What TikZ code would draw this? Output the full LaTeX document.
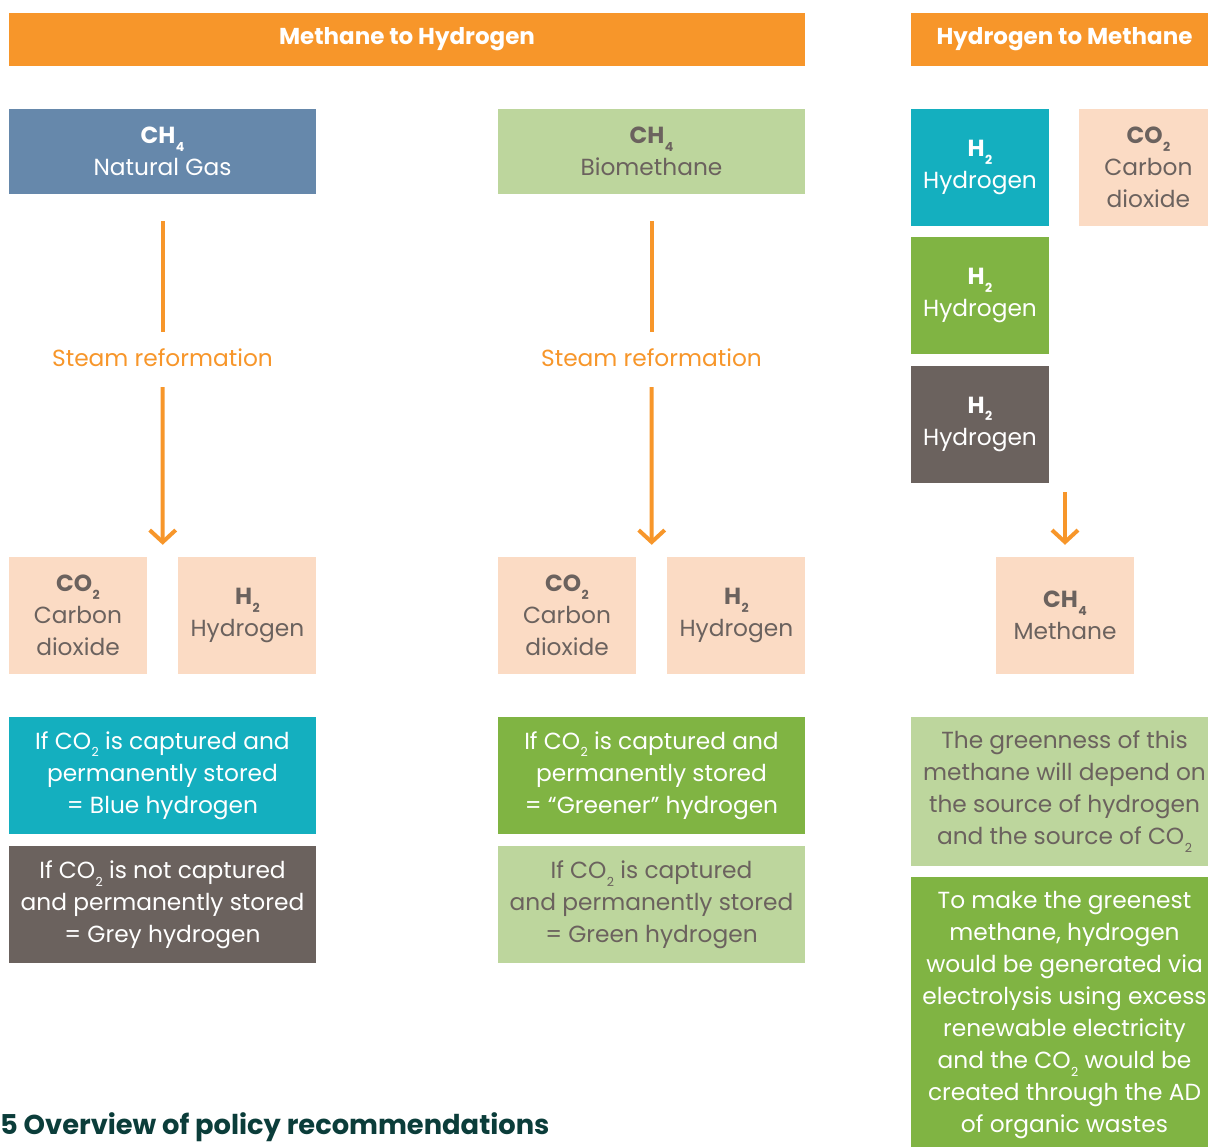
\documentclass[tikz,border=0pt]{standalone}
\usepackage{fontspec}
\setmainfont{Poppins}
\usetikzlibrary{positioning,arrows.meta,calc}
\definecolor{cOrange}{HTML}{F7962A}
\definecolor{cSlate}{HTML}{6688AB}
\definecolor{cLime}{HTML}{BDD69D}
\definecolor{cGreen}{HTML}{80B443}
\definecolor{cTeal}{HTML}{14AFBF}
\definecolor{cGrey}{HTML}{6B625E}
\definecolor{cPeach}{HTML}{FBDBC4}
\definecolor{cInk}{HTML}{0B3D3A}
% low-set subscript as in the source layout
\newcommand{\lowsub}[1]{\kern0.5pt\raisebox{-7.5pt}{\fontsize{12.5}{12.5}\selectfont #1}}
\newcommand{\chem}[2]{\textbf{#1\lowsub{#2}}}
\newcommand{\cotwo}{CO\lowsub{2}}

\begin{document}
\begin{tikzpicture}[
  x=1pt,y=-1pt,
  font=\fontsize{23.3}{32}\selectfont,
  box/.style={minimum width=138pt,minimum height=117pt,inner sep=0pt,align=center},
  wide/.style={box,minimum width=307pt},
  light/.style={text=cGrey},
  dark/.style={text=white},
  hdr/.style={fill=cOrange,text=white,minimum height=53pt,inner sep=0pt,font=\fontsize{23}{28}\selectfont\bfseries},
  procLabel/.style={text=cOrange,minimum height=52pt,inner sep=0pt},
  plain/.style={cOrange,line width=4pt},
  flow/.style={plain,-{Straight Barb[length=12pt,width=26pt]}}
]
\useasboundingbox (0,0) rectangle (1208,1147);

% --- headers ---
\node[hdr,minimum width=796pt] (hdrA) at (407,39.5) {Methane to Hydrogen};
\node[hdr,minimum width=307pt] (hdrB) at (1064.5,39.5) {Hydrogen to Methane};

% --- natural gas route ---
\node[wide,minimum height=85pt,fill=cSlate,dark] (gas) at (162.5,151.5) {\chem{CH}{4}\\Natural Gas};
\node[procLabel] (steamA) at (162.5,358) {Steam reformation};
\node[box,fill=cPeach,light] (co2A) at (78,615.5) {\chem{CO}{2}\\Carbon\\dioxide};
\node[box,fill=cPeach,light,right=31pt of co2A] (h2A) {\chem{H}{2}\\Hydrogen};
\node[wide,fill=cTeal,dark] (blueA) at (162.5,775.5)
     {If \cotwo{} is captured and\\permanently stored\\= Blue hydrogen};
\node[wide,fill=cGrey,dark,below=12pt of blueA] (greyA)
     {If \cotwo{} is not captured\\and permanently stored\\= Grey hydrogen};

% --- biomethane route ---
\node[wide,minimum height=85pt,fill=cLime,light] (bio) at (651.5,151.5) {\chem{CH}{4}\\Biomethane};
\node[procLabel] (steamB) at (651.5,358) {Steam reformation};
\node[box,fill=cPeach,light] (co2B) at (567,615.5) {\chem{CO}{2}\\Carbon\\dioxide};
\node[box,fill=cPeach,light,right=31pt of co2B] (h2B) {\chem{H}{2}\\Hydrogen};
\node[wide,fill=cGreen,dark] (greenB) at (651.5,775.5)
     {If \cotwo{} is captured and\\permanently stored\\= “Greener” hydrogen};
\node[wide,fill=cLime,light,below=12pt of greenB] (limeB)
     {If \cotwo{} is captured\\and permanently stored\\= Green hydrogen};

% --- hydrogen to methane ---
\node[box,fill=cTeal,dark] (h2T) at (980,167.5) {\chem{H}{2}\\Hydrogen};
\node[box,fill=cPeach,light,right=30pt of h2T] (co2T) {\chem{CO}{2}\\Carbon\\dioxide};
\node[box,fill=cGreen,dark,below=11pt of h2T] (h2G) {\chem{H}{2}\\Hydrogen};
\node[box,fill=cGrey,dark,below=11pt of h2G] (h2D) {\chem{H}{2}\\Hydrogen};
\node[box,fill=cPeach,light] (meth) at (1065,615.5) {\chem{CH}{4}\\Methane};
\node[wide,minimum height=149pt,fill=cLime,light] (noteA) at (1064.5,791.5)
     {The greenness of this\\methane will depend on\\the source of hydrogen\\and the source of \cotwo};
\node[wide,minimum height=276pt,fill=cGreen,dark,below=11pt of noteA] (noteB)
     {To make the greenest\\methane, hydrogen\\would be generated via\\electrolysis using excess\\renewable electricity\\and the \cotwo{} would be\\created through the AD\\of organic wastes};

% --- arrows ---
\coordinate (forkA) at ($(co2A.north)!0.5!(h2A.north)$);
\coordinate (forkB) at ($(co2B.north)!0.5!(h2B.north)$);
\coordinate (mixIn) at (1065,492);
\draw[plain,shorten <=27pt] (gas) -- (steamA);
\draw[flow,shorten <=3pt,shorten >=12pt] (steamA) -- (forkA);
\draw[plain,shorten <=27pt] (bio) -- (steamB);
\draw[flow,shorten <=3pt,shorten >=12pt] (steamB) -- (forkB);
\draw[flow,shorten >=12pt] (mixIn) -- (meth);

\node[anchor=base west,inner sep=0pt,text=cInk,font=\fontsize{27.3}{32}\selectfont\bfseries] (secTitle) at (0,1134)
     {5 Overview of policy recommendations};
\end{tikzpicture}
\end{document}
